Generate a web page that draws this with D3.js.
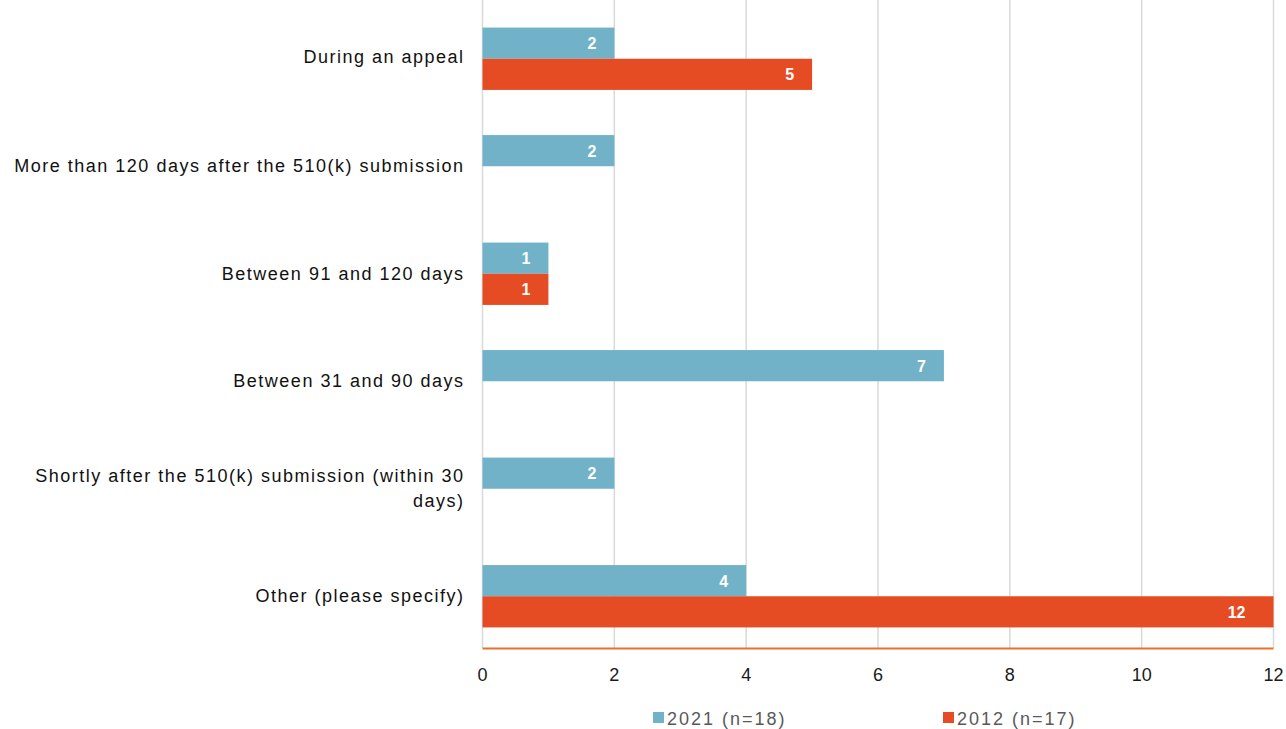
<!DOCTYPE html>
<html><head><meta charset="utf-8">
<script src="https://cdn.jsdelivr.net/npm/d3@7"></script>
<style>body{margin:0;background:#fff;font-family:"Liberation Sans",Arial,sans-serif;}</style>
</head><body>
<svg id="c" width="1286" height="729"></svg>
<script>
const categories = [
  ["During an appeal"],
  ["More than 120 days after the 510(k) submission"],
  ["Between 91 and 120 days"],
  ["Between 31 and 90 days"],
  ["Shortly after the 510(k) submission (within 30", "days)"],
  ["Other (please specify)"]
];
const seriesNames = ["2021 (n=18)", "2012 (n=17)"];
const values2021 = [2, 2, 1, 7, 2, 4];
const values2012 = [5, null, 1, null, null, 12];
const xTicks = [0, 2, 4, 6, 8, 10, 12];
const colors = ["#71b2c9", "#e64c24"];

(function(){
const svg = d3.select("#c");
const pL = 482.5, pR = 1273.5, pT = 5, pB = 650;
const x = d3.scaleLinear().domain([0, 12]).range([pL, pR]);
const y = d3.scaleBand().domain(d3.range(categories.length)).range([pT, pB]).paddingInner(0.42).paddingOuter(0.21);
const yi = d3.scaleBand().domain([0, 1]).range([0, y.bandwidth()]);

// gridlines
svg.append("g").selectAll("line").data(xTicks).join("line")
  .attr("x1", d => x(d)).attr("x2", d => x(d))
  .attr("y1", 0).attr("y2", 648)
  .attr("stroke", "#d9d9d9").attr("stroke-width", 1.5);

const series = [values2021, values2012];
series.forEach((vals, s) => {
  const g = svg.append("g");
  const data = vals.map((v, i) => ({v, i})).filter(d => d.v != null);
  g.selectAll("rect").data(data).join("rect")
    .attr("x", x(0)).attr("y", d => y(d.i) + yi(s))
    .attr("width", d => x(d.v) - x(0)).attr("height", yi.bandwidth())
    .attr("fill", colors[s]);
  g.selectAll("text").data(data).join("text")
    .attr("x", d => x(d.v) - (d.v >= 10 ? 28 : 18)).attr("y", d => y(d.i) + yi(s) + yi.bandwidth() / 2 + 6)
    .attr("text-anchor", "end").attr("fill", "#fff")
    .attr("font-weight", "bold").attr("font-size", 16)
    .text(d => d.v);
});

// axis line
svg.append("line").attr("x1", pL).attr("x2", pR).attr("y1", 648.5).attr("y2", 648.5)
  .attr("stroke", "#e8702a").attr("stroke-width", 2);

// x tick labels
svg.append("g").selectAll("text").data(xTicks).join("text")
  .attr("x", d => x(d)).attr("y", 681).attr("text-anchor", "middle")
  .attr("font-size", 18).attr("fill", "#1a1a1a").text(d => d);

// category labels
const cg = svg.append("g");
categories.forEach((lines, i) => {
  const cy = y(i) + y.bandwidth() / 2;
  const n = lines.length;
  lines.forEach((t, k) => {
    cg.append("text").attr("x", 464.5).attr("y", cy + 6 + (k - (n - 1) / 2) * 25 - (i === 0 ? 2 : 0))
      .attr("text-anchor", "end").attr("font-size", 18).attr("letter-spacing", 1.5)
      .attr("fill", "#111").text(t);
  });
});

// legend
const legX = [653, 943];
seriesNames.forEach((name, s) => {
  svg.append("rect").attr("x", legX[s]).attr("y", 712).attr("width", 11).attr("height", 11).attr("fill", colors[s]);
  svg.append("text").attr("x", legX[s] + 14).attr("y", 724.5).attr("font-size", 18).attr("letter-spacing", 2.0)
    .attr("fill", "#595959").text(name);
});
})();
</script>
</body></html>
